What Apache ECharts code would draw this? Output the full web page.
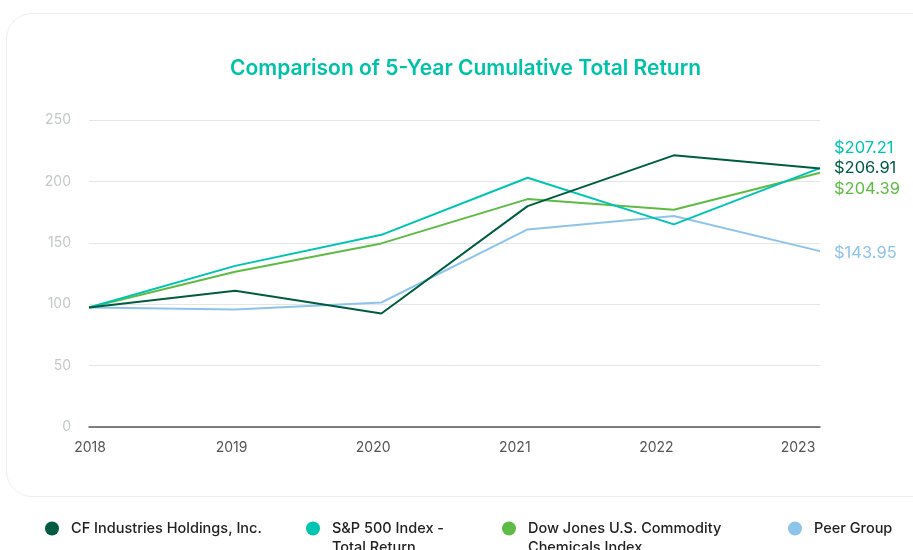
<!DOCTYPE html>
<html>
<head>
<meta charset="utf-8">
<script src="https://cdn.jsdelivr.net/npm/echarts@6/dist/echarts.min.js"></script>
<style>
  html, body { margin: 0; padding: 0; background: #fff; }
  #card {
    position: absolute; left: 6px; top: 13px; width: 940px; height: 484px;
    border: 1.5px solid #eef0ef; border-radius: 26px; box-sizing: border-box;
  }
  #chart { position: absolute; left: 0; top: 0; width: 913px; height: 550px; }
</style>
</head>
<body>
<div id="card"></div>
<div id="chart"></div>
<script>
// 5-year cumulative total return
const years = ['2018', '2019', '2020', '2021', '2022', '2023']
const cfIndustries = [97.3, 110.9, 92.4, 179.9, 221.2, 210.6]
const sp500 = [97.3, 131.2, 156.5, 203.0, 165.0, 210.8]
const dowJones = [97.3, 126.4, 149.5, 185.6, 176.9, 207.1]
const peerGroup = [97.3, 95.7, 101.4, 160.9, 171.8, 143.2]
const endValues = ['$206.91', '$207.21', '$204.39', '$143.95']
const names = [
  'CF Industries Holdings, Inc.',
  'S&P 500 Index -\nTotal Return',
  'Dow Jones U.S. Commodity\nChemicals Index',
  'Peer Group',
]
const colors = ['#005c40', '#00c4b2', '#5fbb46', '#8ec4ea']

const font = 'Inter, "Noto Sans", sans-serif'
const chart = echarts.init(document.getElementById('chart'))

const labelOffsets = [[0, 0], [0, -20], [0, 16], [0, 2]]
const legendLeft = [45, 306, 502, 788]
const seriesData = [cfIndustries, sp500, dowJones, peerGroup]

chart.setOption({
  animation: false,
  title: {
    text: 'Comparison of 5-Year Cumulative Total Return',
    left: 225,
    top: 53,
    textStyle: { color: '#00c2a9', fontSize: 21, fontWeight: 600, fontFamily: font },
  },
  legend: names.map((n, i) => {
    const twoLines = n.includes('\n')
    return {
      data: [n],
      // blank first line keeps the icon level with the first real line
      formatter: name => (name.includes('\n') ? '\n' + name : name),
      left: legendLeft[i],
      top: twoLines ? 500 : 519,
      padding: 0,
      icon: 'circle',
      itemWidth: 14,
      itemHeight: 14,
      itemGap: 0,
      textStyle: {
        color: '#222',
        fontSize: 14.5,
        fontWeight: 500,
        fontFamily: font,
        lineHeight: 19,
        padding: [0, 0, 0, 7],
      },
    }
  }),
  grid: [
    { left: 89, right: 93, top: 120, bottom: 123 },
    { left: 90, right: 115, top: 120, bottom: 123 },
  ],
  xAxis: [
    {
      type: 'category', gridIndex: 0, data: years, boundaryGap: false,
      axisLine: { lineStyle: { color: '#555', width: 1.5 } },
      axisTick: { show: false },
      axisLabel: { show: false },
    },
    {
      type: 'category', gridIndex: 1, data: years, boundaryGap: false,
      axisLine: { show: false },
      axisTick: { show: false },
      axisLabel: { color: '#555', fontSize: 14, fontFamily: font, margin: 14 },
    },
  ],
  yAxis: [
    {
      type: 'value', gridIndex: 0, min: 0, max: 250, interval: 50,
      axisLine: { show: false },
      axisTick: { show: false },
      axisLabel: { color: '#c4c8c8', fontSize: 14, fontFamily: font, margin: 18 },
      splitLine: { lineStyle: { color: '#e3e6e6', width: 1 } },
    },
    { type: 'value', gridIndex: 1, min: 0, max: 250, show: false },
  ],
  series: names.map((n, i) => ({
    name: n,
    type: 'line',
    data: seriesData[i],
    symbol: 'none',
    lineStyle: { color: colors[i], width: 2 },
    itemStyle: { color: colors[i] },
    z: 10 - i,
    endLabel: {
      show: true,
      formatter: () => endValues[i],
      color: colors[i],
      fontSize: 16.5,
      fontFamily: font,
      distance: 14,
      offset: labelOffsets[i],
    },
  })),
})
</script>
</body>
</html>
